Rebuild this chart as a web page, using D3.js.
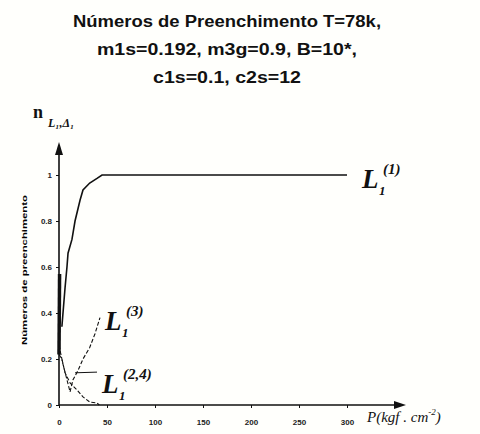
<!DOCTYPE html>
<html>
<head>
<meta charset="utf-8">
<script src="https://cdn.jsdelivr.net/npm/d3@7"></script>
<style>
  body { margin: 0; background: #fffffc; }
  svg { display: block; }
  .title { font-family: 'Liberation Sans', Arial, sans-serif; font-size: 16px; font-weight: bold; fill: #111; }
  .tick text { font-family: 'Liberation Sans', Arial, sans-serif; font-size: 8px; font-weight: bold; fill: #222; }
  .lbl { font-family: 'Liberation Serif', 'Times New Roman', serif; font-style: italic; font-weight: bold; fill: #111; }
</style>
</head>
<body>
<script>
// values
var xTicks = [0, 50, 100, 150, 200, 250, 300];
var yTicks = [0, 0.2, 0.4, 0.6, 0.8, 1];

// L1(1): rises fast to 1 then stays flat
var p1 = [3, 6.3, 8.3, 9.4, 13.5, 16.7, 21.9, 25, 32, 39.6, 44.8, 300];
var n1 = [0.34, 0.51, 0.60, 0.66, 0.72, 0.80, 0.89, 0.935, 0.965, 0.985, 1.0, 1.0];
// steep start that sits on the y axis
var p0 = [0, 0.6];
var n0 = [0.22, 0.57];
// L1(3)
var p3 = [0, 1, 4, 8.3, 11.5, 14.6, 19.8, 25, 32, 37.5, 42.7];
var n3 = [0.26, 0.24, 0.18, 0.11, 0.057, 0.11, 0.15, 0.2, 0.25, 0.31, 0.38];
// L1(2,4)
var p24 = [0, 3, 6.3, 11.5, 18.75, 25, 32, 39.6, 42];
var n24 = [0.22, 0.2, 0.14, 0.096, 0.065, 0.035, 0.013, 0.009, 0.0];
// leader line for the (2,4) label
var pLead = [16.7, 39.6];
var nLead = [0.14, 0.143];

var titleLines = ['Números de Preenchimento T=78k,', 'm1s=0.192,  m3g=0.9,  B=10*,', 'c1s=0.1,  c2s=12'];
var titleWidths = [308, 260, 148];

var width = 480, height = 434;

var svg = d3.select('body').append('svg')
  .attr('width', width)
  .attr('height', height);

svg.append('rect').attr('width', width).attr('height', height).attr('fill', '#fffffc');

let x = d3.scaleLinear().domain([0, 300]).range([59, 347]);
let y = d3.scaleLinear().domain([0, 1]).range([405, 175]);

// title
svg.selectAll('text.title')
  .data(titleLines)
  .enter()
  .append('text')
  .attr('class', 'title')
  .attr('x', 227)
  .attr('y', (d, i) => 27 + i * 28)
  .attr('text-anchor', 'middle')
  .attr('textLength', (d, i) => titleWidths[i])
  .attr('lengthAdjust', 'spacingAndGlyphs')
  .text(d => d);

// axes
let yAxis = d3.axisLeft(y).tickValues(yTicks).tickSize(3).tickFormat(d => d3.format('')(d));
let xAxis = d3.axisBottom(x).tickValues(xTicks).tickSize(3).tickFormat(d => d);

let gy = svg.append('g').attr('transform', `translate(${x(0)},0)`).call(yAxis);
gy.select('.domain').remove();
gy.selectAll('.tick line').attr('stroke', '#111');
gy.selectAll('.tick text').attr('x', -7);

let gx = svg.append('g').attr('transform', `translate(0,${y(0)})`).call(xAxis);
gx.select('.domain').remove();
gx.selectAll('.tick line').attr('stroke', '#111');
gx.selectAll('.tick text').attr('y', 14);

// axis lines with arrows
svg.append('line').attr('x1', x(0)).attr('y1', y(0)).attr('x2', x(0)).attr('y2', 150)
  .attr('stroke', '#111').attr('stroke-width', 1.6);
svg.append('path').attr('d', `M${x(0)},142 L${x(0) - 4},155 L${x(0) + 4},155 Z`).attr('fill', '#111');
svg.append('line').attr('x1', x(0)).attr('y1', y(0)).attr('x2', 398).attr('y2', y(0))
  .attr('stroke', '#111').attr('stroke-width', 1.6);
svg.append('path').attr('d', `M406,${y(0)} L394,${y(0) - 4} L394,${y(0) + 4} Z`).attr('fill', '#111');

// curves
let line = d3.line().x(d => x(d[0])).y(d => y(d[1]));
const pts = (a, b) => a.map((v, i) => [v, b[i]]);

svg.append('path').datum(pts(p1, n1)).attr('d', line)
  .attr('fill', 'none').attr('stroke', '#111').attr('stroke-width', 1.6);
svg.append('path').datum(pts(p0, n0)).attr('d', line)
  .attr('fill', 'none').attr('stroke', '#111').attr('stroke-width', 3.5);
svg.append('path').datum(pts(p3, n3)).attr('d', line)
  .attr('fill', 'none').attr('stroke', '#111').attr('stroke-width', 1.1).attr('stroke-dasharray', '4,2');
svg.append('path').datum(pts(p24, n24)).attr('d', line)
  .attr('fill', 'none').attr('stroke', '#111').attr('stroke-width', 1.1).attr('stroke-dasharray', '4,2');
svg.append('path').datum(pts(pLead, nLead)).attr('d', line)
  .attr('fill', 'none').attr('stroke', '#111').attr('stroke-width', 1);

// curve labels: L with subscript 1 and superscript
const curveLabel = function(px, py, sup) {
  svg.append('text').attr('class', 'lbl').attr('x', px).attr('y', py)
    .attr('font-size', 27).text('L');
  svg.append('text').attr('class', 'lbl').attr('x', px + 17).attr('y', py + 7)
    .attr('font-size', 13).text('1');
  svg.append('text').attr('class', 'lbl').attr('x', px + 21).attr('y', py - 14)
    .attr('font-size', 15).text(sup);
};
curveLabel(362, 188, '(1)');
curveLabel(105, 330, '(3)');
curveLabel(102, 393, '(2,4)');

// y label n_{L1,Δ1}
svg.append('text').attr('class', 'lbl').attr('x', 33).attr('y', 118)
  .style('font-style', 'normal').attr('font-size', 18).text('n');
svg.append('text').attr('class', 'lbl').attr('x', 48).attr('y', 127)
  .attr('font-size', 12).text('L₁,Δ₁');

// rotated axis caption
svg.append('text')
  .attr('transform', 'translate(27,345) rotate(-90)')
  .attr('textLength', 150)
  .attr('lengthAdjust', 'spacingAndGlyphs')
  .style('font-family', 'Liberation Sans, Arial, sans-serif')
  .style('font-size', '7px')
  .style('font-weight', 'bold')
  .text('Números de preenchimento');

// x label P(kgf . cm^-2)
let xl = svg.append('text').attr('class', 'lbl').attr('x', 367).attr('y', 422)
  .style('font-weight', 'normal').attr('font-size', 15);
xl.append('tspan').text('P(kgf . cm');
xl.append('tspan').attr('font-size', 9).attr('dy', -7).text('-2');
xl.append('tspan').attr('dy', 7).text(')');
</script>
</body>
</html>
